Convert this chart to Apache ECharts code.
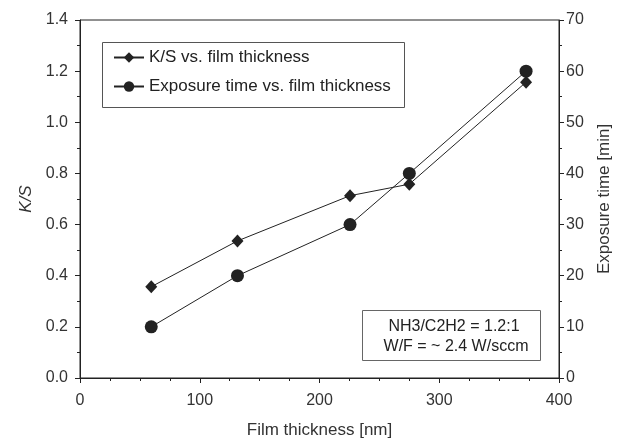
<!doctype html>
<html>
<head>
<meta charset="utf-8">
<title>K/S and exposure time vs. film thickness</title>
<script src="https://cdn.jsdelivr.net/npm/echarts@6/dist/echarts.min.js"></script>
<style type="text/css">
	html, body{margin:0; padding:0; background:#fff;}
	#chart{width:621px; height:444px;}
</style>
</head>
<body>
<div id="chart"></div>
<script type="text/javascript">
// data
var thickness = [59.5, 131.5, 225.5, 275, 372.5];
var ksValues = [0.357, 0.536, 0.713, 0.758, 1.157];
var exposureMin = [10, 20, 30, 40, 60];
var legendNames = ['K/S vs. film thickness', 'Exposure time vs. film thickness'];
var noteLines = ['NH3/C2H2 = 1.2:1', 'W/F = ~ 2.4 W/sccm'];

var ink = '#222';
var txt = '#333';
var font = 'Liberation Sans, Arial, sans-serif';

function pairs(xs, ys){
	var out = [];
	for (var i = 0; i < xs.length; i++) out.push([xs[i], ys[i]]);
	return out;
}

var chart = echarts.init(document.getElementById('chart'));
var option = {
	animation: false,
	textStyle: {fontFamily: font},
	grid: {
		left: 80, right: 56, top: 20, bottom: 63,
		show: true, borderColor: ink, borderWidth: 1
	},
	legend: {
		orient: 'vertical',
		left: 113, top: 49,
		padding: 0,
		itemGap: 12,
		itemWidth: 30, itemHeight: 13,
		textStyle: {color: ink, fontSize: 17, fontFamily: font},
		data: legendNames
	},
	xAxis: {
		type: 'value',
		min: 0, max: 400, interval: 100,
		name: 'Film thickness [nm]',
		nameLocation: 'middle', nameGap: 44,
		nameTextStyle: {color: txt, fontSize: 17},
		axisLine: {lineStyle: {color: ink}},
		axisTick: {length: 5, lineStyle: {color: ink}},
		minorTick: {show: true, splitNumber: 4, length: 3, lineStyle: {color: ink}},
		axisLabel: {color: txt, fontSize: 16, margin: 15},
		splitLine: {show: false}
	},
	yAxis: [
		{
			type: 'value',
			min: 0, max: 1.4, interval: 0.2,
			name: 'K/S',
			nameLocation: 'middle', nameGap: 45,
			nameTextStyle: {color: txt, fontSize: 17, fontStyle: 'italic'},
			axisLine: {show: true, lineStyle: {color: ink}},
			axisTick: {length: 5, lineStyle: {color: ink}},
			minorTick: {show: true, splitNumber: 2, length: 3, lineStyle: {color: ink}},
			axisLabel: {color: txt, fontSize: 16, margin: 12,
				formatter: function(v){ return v.toFixed(1); }},
			splitLine: {show: false}
		},
		{
			type: 'value',
			min: 0, max: 70, interval: 10,
			name: 'Exposure time [min]',
			nameLocation: 'middle', nameGap: 37,
			nameTextStyle: {color: txt, fontSize: 17},
			axisLine: {show: true, lineStyle: {color: ink}},
			axisTick: {length: 5, lineStyle: {color: ink}},
			minorTick: {show: true, splitNumber: 2, length: 3, lineStyle: {color: ink}},
			axisLabel: {color: txt, fontSize: 16, margin: 7},
			splitLine: {show: false}
		}
	],
	series: [
		{
			name: legendNames[0],
			type: 'line',
			yAxisIndex: 0,
			symbol: 'diamond',
			symbolSize: [12, 13],
			lineStyle: {color: ink, width: 1},
			itemStyle: {color: ink},
			data: pairs(thickness, ksValues)
		},
		{
			name: legendNames[1],
			type: 'line',
			yAxisIndex: 1,
			symbol: 'circle',
			symbolSize: 13,
			lineStyle: {color: ink, width: 1},
			itemStyle: {color: ink},
			data: pairs(thickness, exposureMin)
		}
	],
	graphic: [
		{
			type: 'rect',
			shape: {x: 102.5, y: 42.5, width: 302, height: 65},
			style: {fill: 'none', stroke: '#555', lineWidth: 1},
			z: 10
		},
		{
			type: 'rect',
			shape: {x: 362.5, y: 310.5, width: 178, height: 50},
			style: {fill: '#fff', stroke: '#666', lineWidth: 1},
			z: 10
		},
		{
			type: 'text',
			x: 454, y: 327,
			style: {text: noteLines[0], fill: ink, font: '16px ' + font,
				textAlign: 'center', textVerticalAlign: 'middle'},
			z: 11
		},
		{
			type: 'text',
			x: 456, y: 347,
			style: {text: noteLines[1], fill: ink, font: '16px ' + font,
				textAlign: 'center', textVerticalAlign: 'middle'},
			z: 11
		}
	]
};
chart.setOption(option);
</script>
</body>
</html>
